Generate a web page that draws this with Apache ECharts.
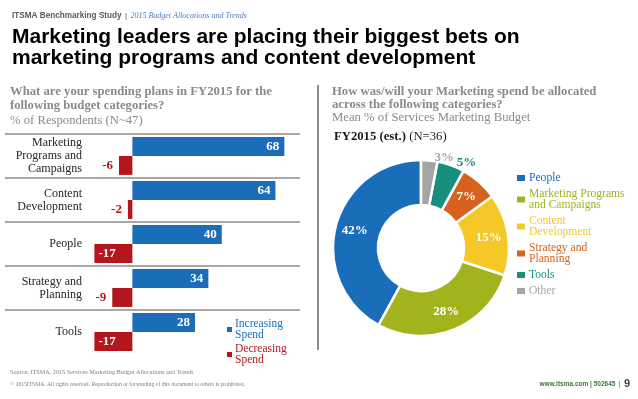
<!DOCTYPE html>
<html>
<head>
<meta charset="utf-8">
<script src="https://cdn.jsdelivr.net/npm/echarts@6/dist/echarts.min.js"></script>
<style>
  html, body { margin: 0; padding: 0; background: #fff; }
  #chart { width: 638px; height: 399px; }
</style>
</head>
<body>
<div id="chart"></div>
<script>
// 左图：预算计划
var barCategories = ['Marketing\nPrograms and\nCampaigns', 'Content\nDevelopment', 'People', 'Strategy and\nPlanning', 'Tools'];
var increasing = [68, 64, 40, 34, 28];
var decreasing = [-6, -2, -17, -9, -17];
// 右图：预算分配
var pieNames = ['People', 'Marketing Programs and Campaigns', 'Content Development', 'Strategy and Planning', 'Tools', 'Other'];
var pieValues = [42, 28, 15, 7, 5, 3];
var pieLegendText = ['People', 'Marketing Programs\nand Campaigns', 'Content\nDevelopment', 'Strategy and\nPlanning', 'Tools', 'Other'];

var blue = '#1a6db8', red = '#b3161c';
var pieColors = [blue, '#a2b31c', '#f5c828', '#d6621d', '#168f7c', '#a5a5a5'];
var serif = 'Liberation Serif';
var sans = 'Liberation Sans';

var myChart = echarts.init(document.getElementById('chart'));

var decData = decreasing.map(function (v) {
    var wide = v <= -15;
    return {
        value: v,
        label: {
            position: wide ? 'insideLeft' : 'left',
            color: wide ? '#fff' : red,
            distance: wide ? 4 : 6
        }
    };
});

var pieData = pieValues.map(function (v, i) {
    var item = {value: v, name: pieNames[i], itemStyle: {color: pieColors[i]}};
    if (v < 6) {
        item.label = {position: 'outside', color: pieColors[i]};
        item.labelLine = {show: false, length: 3, length2: 0};
    }
    return item;
});

var pieLegend = pieNames.map(function (n, i) {
    return {name: n, textStyle: {color: pieColors[i]}};
});

myChart.setOption({
    animation: false,
    graphic: [
        {type: 'text', left: 12, top: 10, style: {
            text: '{a|ITSMA Benchmarking Study} {b||} {c|2015 Budget Allocations and Trends}',
            rich: {
                a: {fontFamily: sans, fontWeight: 'bold', fontSize: 8.2, fill: '#595959'},
                b: {fontFamily: sans, fontSize: 8, fill: '#595959'},
                c: {fontFamily: serif, fontStyle: 'italic', fontSize: 8, fill: '#4f81bd'}
            }
        }},
        {type: 'text', left: 12, top: 26, style: {
            text: 'Marketing leaders are placing their biggest bets on\nmarketing programs and content development',
            fontFamily: sans, fontWeight: 'bold', fontSize: 21, lineHeight: 21.5, fill: '#000'
        }},
        {type: 'text', left: 10, top: 85, style: {
            text: '{q|What are your spending plans in FY2015 for the}\n{q|following budget categories?}\n{s|% of Respondents (N~47)}',
            rich: {
                q: {fontFamily: serif, fontWeight: 'bold', fontSize: 12.7, lineHeight: 14.5, fill: '#8a8a8a'},
                s: {fontFamily: serif, fontSize: 12.7, lineHeight: 14.5, fill: '#8a8a8a'}
            }
        }},
        {type: 'text', left: 332, top: 85, style: {
            text: '{q|How was/will your Marketing spend be allocated}\n{q|across the following categories?}\n{s|Mean % of Services Marketing Budget}',
            rich: {
                q: {fontFamily: serif, fontWeight: 'bold', fontSize: 12.7, lineHeight: 13, fill: '#8a8a8a'},
                s: {fontFamily: serif, fontSize: 12.7, lineHeight: 13, fill: '#8a8a8a'}
            }
        }},
        {type: 'text', left: 334, top: 130, style: {
            text: '{a|FY2015 (est.)} {b|(N=36)}',
            rich: {
                a: {fontFamily: serif, fontWeight: 'bold', fontSize: 12.7, fill: '#1a1a1a'},
                b: {fontFamily: serif, fontSize: 12.7, fill: '#1a1a1a'}
            }
        }},
        {type: 'line', shape: {x1: 318, y1: 85, x2: 318, y2: 350}, style: {stroke: '#8c8c8c', lineWidth: 2}},
        {type: 'text', left: 10, top: 369, style: {
            text: 'Source: ITSMA, 2015 Services Marketing Budget Allocations and Trends',
            fontFamily: serif, fontSize: 6.2, fill: '#808080'
        }},
        {type: 'text', left: 10, top: 382, style: {
            text: '\u00a9 2015ITSMA. All rights reserved. Reproduction or forwarding of this document to others is prohibited.',
            fontFamily: serif, fontSize: 5.6, fill: '#808080'
        }},
        {type: 'text', right: 8, top: 378, style: {
            text: '{a|www.itsma.com | 502645} {b||} {c|9}',
            rich: {
                a: {fontFamily: sans, fontWeight: 'bold', fontSize: 6.5, fill: '#3b7a3b'},
                b: {fontFamily: sans, fontSize: 7, fill: '#595959'},
                c: {fontFamily: sans, fontWeight: 'bold', fontSize: 11, fill: '#404040'}
            }
        }}
    ],
    legend: [{
        data: [{name: 'Increasing Spend', textStyle: {color: blue}}, {name: 'Decreasing Spend', textStyle: {color: red}}],
        orient: 'vertical',
        left: 222,
        top: 313,
        itemWidth: 5,
        itemHeight: 5,
        itemGap: 2,
        icon: 'rect',
        selectedMode: false,
        formatter: function (name) {
            return name.replace(' ', '\n');
        },
        textStyle: {fontFamily: serif, fontSize: 11.5, lineHeight: 11, padding: [0, 0, 0, -2]}
    }, {
        data: pieLegend,
        orient: 'vertical',
        left: 510,
        top: 167,
        itemWidth: 10,
        itemHeight: 8,
        itemGap: 4,
        icon: 'rect',
        selectedMode: false,
        formatter: function (name) {
            return pieLegendText[pieNames.indexOf(name)];
        },
        textStyle: {fontFamily: serif, fontSize: 11.6, lineHeight: 11, padding: [0, 0, 0, -2]}
    }],
    grid: {left: 5, right: 338, top: 134, height: 220},
    xAxis: {type: 'value', min: -57, max: 75, show: false},
    yAxis: {
        type: 'category',
        inverse: true,
        data: barCategories,
        axisLine: {show: false},
        axisTick: {show: false},
        axisLabel: {
            margin: -77,
            fontFamily: serif,
            fontSize: 12,
            lineHeight: 13,
            color: '#262626'
        },
        splitLine: {show: true, showMaxLine: false, lineStyle: {color: '#8c8c8c', width: 1.5}}
    },
    series: [{
        name: 'Increasing Spend',
        type: 'bar',
        data: increasing,
        barGap: '0%',
        barCategoryGap: '14%',
        itemStyle: {color: blue},
        label: {
            show: true,
            position: 'insideRight',
            distance: 5,
            color: '#fff',
            fontFamily: serif,
            fontWeight: 'bold',
            fontSize: 13
        }
    }, {
        name: 'Decreasing Spend',
        type: 'bar',
        data: decData,
        itemStyle: {color: red},
        label: {
            show: true,
            fontFamily: serif,
            fontWeight: 'bold',
            fontSize: 13
        }
    }, {
        type: 'pie',
        center: [421, 248],
        radius: [43, 88],
        startAngle: 90,
        clockwise: false,
        avoidLabelOverlap: false,
        data: pieData,
        itemStyle: {borderColor: '#fff', borderWidth: 2.5},
        label: {
            show: true,
            position: 'inside',
            formatter: '{c}%',
            color: '#fff',
            fontFamily: serif,
            fontWeight: 'bold',
            fontSize: 13
        },
        emphasis: {disabled: true}
    }]
});
</script>
</body>
</html>
